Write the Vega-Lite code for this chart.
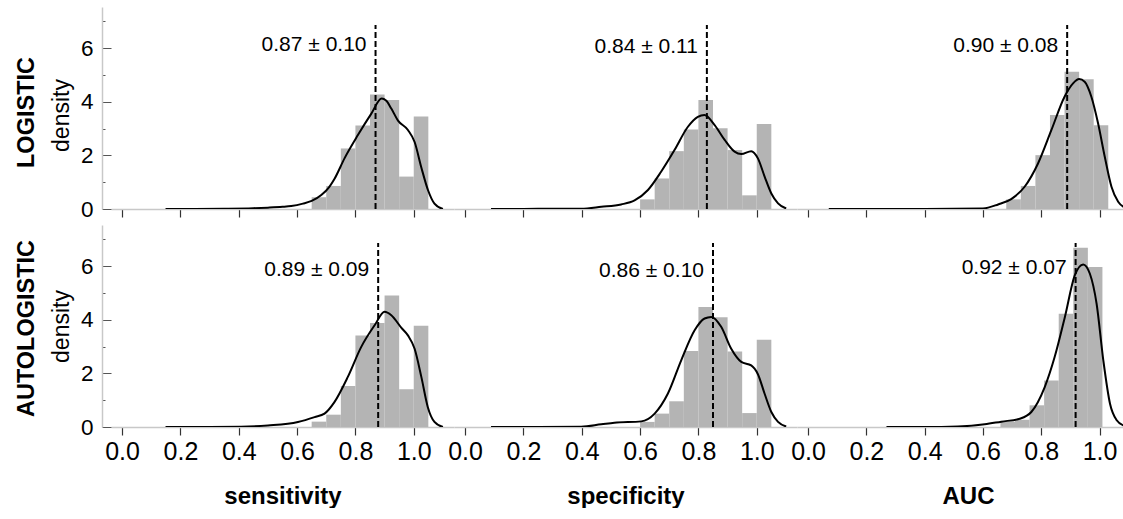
{
  "$schema": "https://vega.github.io/schema/vega-lite/v6.json",
  "padding": {"left": 13, "top": 7, "right": 0, "bottom": 0},
  "config": {
    "font": "Liberation Sans",
    "view": {"stroke": null},
    "axis": {"grid": false, "labelColor": "#000", "titleColor": "#000"}
  },
  "datasets": {
    "bars": [
      {"m":"L","v":"sens","a":0.65,"b":0.70,"h":0.44},{"m":"L","v":"sens","a":0.70,"b":0.75,"h":0.86},{"m":"L","v":"sens","a":0.75,"b":0.80,"h":2.26},{"m":"L","v":"sens","a":0.80,"b":0.85,"h":3.12},{"m":"L","v":"sens","a":0.85,"b":0.90,"h":4.27},{"m":"L","v":"sens","a":0.90,"b":0.95,"h":4.07},{"m":"L","v":"sens","a":0.95,"b":1.00,"h":1.21},{"m":"L","v":"sens","a":1.00,"b":1.05,"h":3.45},
      {"m":"L","v":"spec","a":0.60,"b":0.65,"h":0.36},{"m":"L","v":"spec","a":0.65,"b":0.70,"h":1.14},{"m":"L","v":"spec","a":0.70,"b":0.75,"h":2.16},{"m":"L","v":"spec","a":0.75,"b":0.80,"h":2.97},{"m":"L","v":"spec","a":0.80,"b":0.85,"h":4.07},{"m":"L","v":"spec","a":0.85,"b":0.90,"h":3.01},{"m":"L","v":"spec","a":0.90,"b":0.95,"h":2.20},{"m":"L","v":"spec","a":0.95,"b":1.00,"h":0.51},{"m":"L","v":"spec","a":1.00,"b":1.05,"h":3.17},
      {"m":"L","v":"auc","a":0.68,"b":0.73,"h":0.36},{"m":"L","v":"auc","a":0.73,"b":0.78,"h":0.86},{"m":"L","v":"auc","a":0.78,"b":0.83,"h":2.01},{"m":"L","v":"auc","a":0.83,"b":0.88,"h":3.51},{"m":"L","v":"auc","a":0.88,"b":0.93,"h":5.12},{"m":"L","v":"auc","a":0.93,"b":0.98,"h":4.84},{"m":"L","v":"auc","a":0.98,"b":1.03,"h":3.13},
      {"m":"A","v":"sens","a":0.65,"b":0.70,"h":0.20},{"m":"A","v":"sens","a":0.70,"b":0.75,"h":0.46},{"m":"A","v":"sens","a":0.75,"b":0.80,"h":1.53},{"m":"A","v":"sens","a":0.80,"b":0.85,"h":3.42},{"m":"A","v":"sens","a":0.85,"b":0.90,"h":3.88},{"m":"A","v":"sens","a":0.90,"b":0.95,"h":4.91},{"m":"A","v":"sens","a":0.95,"b":1.00,"h":1.41},{"m":"A","v":"sens","a":1.00,"b":1.05,"h":3.78},
      {"m":"A","v":"spec","a":0.60,"b":0.65,"h":0.19},{"m":"A","v":"spec","a":0.65,"b":0.70,"h":0.50},{"m":"A","v":"spec","a":0.70,"b":0.75,"h":0.96},{"m":"A","v":"spec","a":0.75,"b":0.80,"h":2.84},{"m":"A","v":"spec","a":0.80,"b":0.85,"h":4.48},{"m":"A","v":"spec","a":0.85,"b":0.90,"h":4.10},{"m":"A","v":"spec","a":0.90,"b":0.95,"h":2.82},{"m":"A","v":"spec","a":0.95,"b":1.00,"h":0.52},{"m":"A","v":"spec","a":1.00,"b":1.05,"h":3.26},
      {"m":"A","v":"auc","a":0.66,"b":0.71,"h":0.20},{"m":"A","v":"auc","a":0.71,"b":0.76,"h":0.27},{"m":"A","v":"auc","a":0.76,"b":0.81,"h":0.81},{"m":"A","v":"auc","a":0.81,"b":0.86,"h":1.74},{"m":"A","v":"auc","a":0.86,"b":0.91,"h":4.23},{"m":"A","v":"auc","a":0.91,"b":0.96,"h":6.69},{"m":"A","v":"auc","a":0.96,"b":1.01,"h":5.97}
    ],
    "curves": [
      {"m":"L","v":"sens","x":0.149,"d":0},{"m":"L","v":"sens","x":0.25,"d":0.0},{"m":"L","v":"sens","x":0.35,"d":0.01},{"m":"L","v":"sens","x":0.45,"d":0.03},{"m":"L","v":"sens","x":0.50,"d":0.05},{"m":"L","v":"sens","x":0.55,"d":0.08},{"m":"L","v":"sens","x":0.58,"d":0.11},{"m":"L","v":"sens","x":0.62,"d":0.2},{"m":"L","v":"sens","x":0.65,"d":0.3},{"m":"L","v":"sens","x":0.683,"d":0.52},{"m":"L","v":"sens","x":0.71,"d":0.82},{"m":"L","v":"sens","x":0.728,"d":1.12},{"m":"L","v":"sens","x":0.763,"d":1.9},{"m":"L","v":"sens","x":0.808,"d":2.75},{"m":"L","v":"sens","x":0.854,"d":3.55},{"m":"L","v":"sens","x":0.89,"d":4.12},{"m":"L","v":"sens","x":0.905,"d":4.05},{"m":"L","v":"sens","x":0.923,"d":3.75},{"m":"L","v":"sens","x":0.946,"d":3.3},{"m":"L","v":"sens","x":0.98,"d":2.95},{"m":"L","v":"sens","x":1.003,"d":2.5},{"m":"L","v":"sens","x":1.026,"d":1.55},{"m":"L","v":"sens","x":1.049,"d":0.7},{"m":"L","v":"sens","x":1.071,"d":0.2},{"m":"L","v":"sens","x":1.10,"d":0.0},
      {"m":"L","v":"spec","x":0.089,"d":0},{"m":"L","v":"spec","x":0.2,"d":0.0},{"m":"L","v":"spec","x":0.3,"d":0.01},{"m":"L","v":"spec","x":0.398,"d":0.01},{"m":"L","v":"spec","x":0.467,"d":0.08},{"m":"L","v":"spec","x":0.535,"d":0.17},{"m":"L","v":"spec","x":0.581,"d":0.32},{"m":"L","v":"spec","x":0.627,"d":0.71},{"m":"L","v":"spec","x":0.672,"d":1.39},{"m":"L","v":"spec","x":0.718,"d":2.2},{"m":"L","v":"spec","x":0.764,"d":3.07},{"m":"L","v":"spec","x":0.798,"d":3.44},{"m":"L","v":"spec","x":0.821,"d":3.51},{"m":"L","v":"spec","x":0.855,"d":3.14},{"m":"L","v":"spec","x":0.89,"d":2.58},{"m":"L","v":"spec","x":0.924,"d":2.14},{"m":"L","v":"spec","x":0.947,"d":2.05},{"m":"L","v":"spec","x":0.981,"d":2.16},{"m":"L","v":"spec","x":1.004,"d":1.89},{"m":"L","v":"spec","x":1.027,"d":1.21},{"m":"L","v":"spec","x":1.05,"d":0.58},{"m":"L","v":"spec","x":1.073,"d":0.21},{"m":"L","v":"spec","x":1.101,"d":0.02},
      {"m":"L","v":"auc","x":0.071,"d":0},{"m":"L","v":"auc","x":0.2,"d":0},{"m":"L","v":"auc","x":0.4,"d":0},{"m":"L","v":"auc","x":0.6,"d":0.02},{"m":"L","v":"auc","x":0.652,"d":0.17},{"m":"L","v":"auc","x":0.697,"d":0.37},{"m":"L","v":"auc","x":0.743,"d":0.83},{"m":"L","v":"auc","x":0.789,"d":1.70},{"m":"L","v":"auc","x":0.835,"d":2.95},{"m":"L","v":"auc","x":0.88,"d":4.19},{"m":"L","v":"auc","x":0.91,"d":4.7},{"m":"L","v":"auc","x":0.93,"d":4.85},{"m":"L","v":"auc","x":0.949,"d":4.75},{"m":"L","v":"auc","x":0.972,"d":4.19},{"m":"L","v":"auc","x":0.995,"d":3.2},{"m":"L","v":"auc","x":1.018,"d":1.95},{"m":"L","v":"auc","x":1.041,"d":0.83},{"m":"L","v":"auc","x":1.064,"d":0.27},{"m":"L","v":"auc","x":1.086,"d":0.06},{"m":"L","v":"auc","x":1.11,"d":0},
      {"m":"A","v":"sens","x":0.149,"d":0},{"m":"A","v":"sens","x":0.3,"d":0},{"m":"A","v":"sens","x":0.408,"d":0.01},{"m":"A","v":"sens","x":0.5,"d":0.06},{"m":"A","v":"sens","x":0.603,"d":0.19},{"m":"A","v":"sens","x":0.66,"d":0.37},{"m":"A","v":"sens","x":0.694,"d":0.5},{"m":"A","v":"sens","x":0.728,"d":0.93},{"m":"A","v":"sens","x":0.774,"d":1.87},{"m":"A","v":"sens","x":0.82,"d":2.99},{"m":"A","v":"sens","x":0.866,"d":3.8},{"m":"A","v":"sens","x":0.9,"d":4.3},{"m":"A","v":"sens","x":0.923,"d":4.17},{"m":"A","v":"sens","x":0.957,"d":3.71},{"m":"A","v":"sens","x":0.98,"d":3.42},{"m":"A","v":"sens","x":1.003,"d":2.92},{"m":"A","v":"sens","x":1.026,"d":1.87},{"m":"A","v":"sens","x":1.048,"d":0.75},{"m":"A","v":"sens","x":1.071,"d":0.19},{"m":"A","v":"sens","x":1.1,"d":0},
      {"m":"A","v":"spec","x":0.089,"d":0},{"m":"A","v":"spec","x":0.25,"d":0},{"m":"A","v":"spec","x":0.398,"d":0.01},{"m":"A","v":"spec","x":0.467,"d":0.1},{"m":"A","v":"spec","x":0.512,"d":0.16},{"m":"A","v":"spec","x":0.604,"d":0.21},{"m":"A","v":"spec","x":0.65,"d":0.5},{"m":"A","v":"spec","x":0.695,"d":1.24},{"m":"A","v":"spec","x":0.741,"d":2.49},{"m":"A","v":"spec","x":0.787,"d":3.61},{"m":"A","v":"spec","x":0.821,"d":4.05},{"m":"A","v":"spec","x":0.844,"d":4.11},{"m":"A","v":"spec","x":0.878,"d":3.74},{"m":"A","v":"spec","x":0.912,"d":2.93},{"m":"A","v":"spec","x":0.947,"d":2.43},{"m":"A","v":"spec","x":0.981,"d":2.3},{"m":"A","v":"spec","x":1.004,"d":1.97},{"m":"A","v":"spec","x":1.027,"d":1.24},{"m":"A","v":"spec","x":1.05,"d":0.56},{"m":"A","v":"spec","x":1.073,"d":0.19},{"m":"A","v":"spec","x":1.101,"d":0.02},
      {"m":"A","v":"auc","x":0.269,"d":0},{"m":"A","v":"auc","x":0.4,"d":0},{"m":"A","v":"auc","x":0.514,"d":0.02},{"m":"A","v":"auc","x":0.606,"d":0.1},{"m":"A","v":"auc","x":0.663,"d":0.2},{"m":"A","v":"auc","x":0.726,"d":0.31},{"m":"A","v":"auc","x":0.766,"d":0.56},{"m":"A","v":"auc","x":0.812,"d":1.49},{"m":"A","v":"auc","x":0.846,"d":2.61},{"m":"A","v":"auc","x":0.881,"d":4.1},{"m":"A","v":"auc","x":0.915,"d":5.66},{"m":"A","v":"auc","x":0.944,"d":6.07},{"m":"A","v":"auc","x":0.967,"d":5.72},{"m":"A","v":"auc","x":0.99,"d":4.6},{"m":"A","v":"auc","x":1.013,"d":2.49},{"m":"A","v":"auc","x":1.036,"d":0.87},{"m":"A","v":"auc","x":1.059,"d":0.25},{"m":"A","v":"auc","x":1.082,"d":0.06},{"m":"A","v":"auc","x":1.11,"d":0}
    ],
    "means": [
      {"m":"L","v":"sens","mu":0.869,"ty":6.12,"label":"0.87 ± 0.10"},
      {"m":"L","v":"spec","mu":0.829,"ty":6.06,"label":"0.84 ± 0.11"},
      {"m":"L","v":"auc","mu":0.889,"ty":6.09,"label":"0.90 ± 0.08"},
      {"m":"A","v":"sens","mu":0.878,"ty":5.85,"label":"0.89 ± 0.09"},
      {"m":"A","v":"spec","mu":0.85,"ty":5.82,"label":"0.86 ± 0.10"},
      {"m":"A","v":"auc","mu":0.918,"ty":5.93,"label":"0.92 ± 0.07"}
    ]
  },
  "vconcat": [
    {
      "hconcat": [
        {
          "width": 343, "height": 202,
          "layer": [
            {"data": {"name": "bars"}, "transform": [{"filter": "datum.m=='L' && datum.v=='sens'"}],
             "mark": {"type": "bar", "color": "#b4b4b4"},
             "encoding": {
               "x": {"field": "a", "type": "quantitative", "scale": {"domain": [-0.038, 1.138], "nice": false, "zero": false},
                     "axis": {"values": [0,0.1,0.2,0.3,0.4,0.5,0.6,0.7,0.8,0.9,1.0], "labels": false, "title": null, "tickSize": {"condition": {"test": "round(datum.value*10)%2==0", "value": 8}, "value": 3}, "tickColor": "#333", "tickWidth": 1.2, "domainColor": "#c8c8c8", "domainWidth": 1.5}},
               "x2": {"field": "b"},
               "y": {"field": "h", "type": "quantitative", "scale": {"domain": [0, 7.54], "nice": false},
                     "axis": {"orient": "left", "offset": 0, "domain": false, "values": [0,2,4,6], "tickSize": 9, "labelPadding": 9, "labelFontSize": 22.5, "tickColor": "#555", "title": "density", "titleFontSize": 23, "titleFontWeight": "normal", "titleX": -50, "titleY": 108, "titleBaseline": "middle", "titleAlign": "center", "titleAngle": -90}},
               "y2": {"datum": 0}
             }},
            {"data": {"name": "curves"}, "transform": [{"filter": "datum.m=='L' && datum.v=='sens'"}],
             "mark": {"type": "line", "color": "#000", "strokeWidth": 2, "interpolate": "monotone", "clip": true},
             "encoding": {
               "x": {"field": "x", "type": "quantitative"},
               "y": {"field": "d", "type": "quantitative", "axis": {"orient": "left", "offset": 9, "domain": true, "domainColor": "#c8c8c8", "domainWidth": 1.5, "values": [1,3,5,7], "ticks": true, "tickSize": -3, "tickColor": "#555", "labels": false, "title": "LOGISTIC", "titleFontSize": 23.5, "titleFontWeight": "bold", "titleX": -76, "titleY": 105, "titleBaseline": "middle", "titleAlign": "center", "titleAngle": -90}}
             }},
            {"data": {"name": "means"}, "transform": [{"filter": "datum.m=='L' && datum.v=='sens'"}],
             "mark": {"type": "rule", "color": "#000", "strokeWidth": 2, "strokeDash": [6, 3]},
             "encoding": {"x": {"field": "mu", "type": "quantitative"}, "y": {"datum": 0, "type": "quantitative", "axis": null}, "y2": {"datum": 6.87}}},
            {"data": {"name": "means"}, "transform": [{"filter": "datum.m=='L' && datum.v=='sens'"}],
             "mark": {"type": "text", "align": "right", "baseline": "middle", "dx": -9, "fontSize": 21},
             "encoding": {"x": {"field": "mu", "type": "quantitative"}, "y": {"field": "ty", "type": "quantitative", "axis": null}, "text": {"field": "label"}}}
          ],
          "resolve": {"axis": {"y": "independent"}}
        },
        {
          "width": 343, "height": 202,
          "layer": [
            {"data": {"name": "bars"}, "transform": [{"filter": "datum.m=='L' && datum.v=='spec'"}],
             "mark": {"type": "bar", "color": "#b4b4b4"},
             "encoding": {
               "x": {"field": "a", "type": "quantitative", "scale": {"domain": [-0.038, 1.138], "nice": false, "zero": false},
                     "axis": {"values": [0,0.1,0.2,0.3,0.4,0.5,0.6,0.7,0.8,0.9,1.0], "labels": false, "title": null, "tickSize": {"condition": {"test": "round(datum.value*10)%2==0", "value": 8}, "value": 3}, "tickColor": "#333", "tickWidth": 1.2, "domainColor": "#c8c8c8", "domainWidth": 1.5}},
               "x2": {"field": "b"},
               "y": {"field": "h", "type": "quantitative", "scale": {"domain": [0, 7.54], "nice": false}, "axis": null},
               "y2": {"datum": 0}
             }},
            {"data": {"name": "curves"}, "transform": [{"filter": "datum.m=='L' && datum.v=='spec'"}],
             "mark": {"type": "line", "color": "#000", "strokeWidth": 2, "interpolate": "monotone", "clip": true},
             "encoding": {"x": {"field": "x", "type": "quantitative"}, "y": {"field": "d", "type": "quantitative", "axis": null}}},
            {"data": {"name": "means"}, "transform": [{"filter": "datum.m=='L' && datum.v=='spec'"}],
             "mark": {"type": "rule", "color": "#000", "strokeWidth": 2, "strokeDash": [6, 3]},
             "encoding": {"x": {"field": "mu", "type": "quantitative"}, "y": {"datum": 0, "type": "quantitative", "axis": null}, "y2": {"datum": 6.87}}},
            {"data": {"name": "means"}, "transform": [{"filter": "datum.m=='L' && datum.v=='spec'"}],
             "mark": {"type": "text", "align": "right", "baseline": "middle", "dx": -9, "fontSize": 21},
             "encoding": {"x": {"field": "mu", "type": "quantitative"}, "y": {"field": "ty", "type": "quantitative", "axis": null}, "text": {"field": "label"}}}
          ]
        },
        {
          "width": 327, "height": 202,
          "layer": [
            {"data": {"name": "bars"}, "transform": [{"filter": "datum.m=='L' && datum.v=='auc'"}],
             "mark": {"type": "bar", "color": "#b4b4b4"},
             "encoding": {
               "x": {"field": "a", "type": "quantitative", "scale": {"domain": [-0.038, 1.084], "nice": false, "zero": false},
                     "axis": {"values": [0,0.1,0.2,0.3,0.4,0.5,0.6,0.7,0.8,0.9,1.0], "labels": false, "title": null, "tickSize": {"condition": {"test": "round(datum.value*10)%2==0", "value": 8}, "value": 3}, "tickColor": "#333", "tickWidth": 1.2, "domainColor": "#c8c8c8", "domainWidth": 1.5}},
               "x2": {"field": "b"},
               "y": {"field": "h", "type": "quantitative", "scale": {"domain": [0, 7.54], "nice": false}, "axis": null},
               "y2": {"datum": 0}
             }},
            {"data": {"name": "curves"}, "transform": [{"filter": "datum.m=='L' && datum.v=='auc'"}],
             "mark": {"type": "line", "color": "#000", "strokeWidth": 2, "interpolate": "monotone", "clip": true},
             "encoding": {"x": {"field": "x", "type": "quantitative"}, "y": {"field": "d", "type": "quantitative", "axis": null}}},
            {"data": {"name": "means"}, "transform": [{"filter": "datum.m=='L' && datum.v=='auc'"}],
             "mark": {"type": "rule", "color": "#000", "strokeWidth": 2, "strokeDash": [6, 3]},
             "encoding": {"x": {"field": "mu", "type": "quantitative"}, "y": {"datum": 0, "type": "quantitative", "axis": null}, "y2": {"datum": 6.87}}},
            {"data": {"name": "means"}, "transform": [{"filter": "datum.m=='L' && datum.v=='auc'"}],
             "mark": {"type": "text", "align": "right", "baseline": "middle", "dx": -9, "fontSize": 21},
             "encoding": {"x": {"field": "mu", "type": "quantitative"}, "y": {"field": "ty", "type": "quantitative", "axis": null}, "text": {"field": "label"}}}
          ]
        }
      ],
      "spacing": 0, "bounds": "flush"
    },
    {
      "hconcat": [
        {
          "width": 343, "height": 202,
          "layer": [
            {"data": {"name": "bars"}, "transform": [{"filter": "datum.m=='A' && datum.v=='sens'"}],
             "mark": {"type": "bar", "color": "#b4b4b4"},
             "encoding": {
               "x": {"field": "a", "type": "quantitative", "scale": {"domain": [-0.038, 1.138], "nice": false, "zero": false},
                     "axis": {"values": [0,0.1,0.2,0.3,0.4,0.5,0.6,0.7,0.8,0.9,1.0], "format": ".1f", "labelExpr": "round(datum.value*10)%2==0 ? datum.label : ''", "labelFontSize": 25, "labelPadding": 4, "tickSize": {"condition": {"test": "round(datum.value*10)%2==0", "value": 8}, "value": 3}, "tickColor": "#333", "tickWidth": 1.2, "domainColor": "#c8c8c8", "domainWidth": 1.5, "title": "sensitivity", "titleFontSize": 24, "titleFontWeight": "bold", "titlePadding": 20}},
               "x2": {"field": "b"},
               "y": {"field": "h", "type": "quantitative", "scale": {"domain": [0, 7.54], "nice": false},
                     "axis": {"orient": "left", "offset": 0, "domain": false, "values": [0,2,4,6], "tickSize": 9, "labelPadding": 9, "labelFontSize": 22.5, "tickColor": "#555", "title": "density", "titleFontSize": 23, "titleFontWeight": "normal", "titleX": -50, "titleY": 101, "titleBaseline": "middle", "titleAlign": "center", "titleAngle": -90}},
               "y2": {"datum": 0}
             }},
            {"data": {"name": "curves"}, "transform": [{"filter": "datum.m=='A' && datum.v=='sens'"}],
             "mark": {"type": "line", "color": "#000", "strokeWidth": 2, "interpolate": "monotone", "clip": true},
             "encoding": {
               "x": {"field": "x", "type": "quantitative"},
               "y": {"field": "d", "type": "quantitative", "axis": {"orient": "left", "offset": 9, "domain": true, "domainColor": "#c8c8c8", "domainWidth": 1.5, "values": [1,3,5,7], "ticks": true, "tickSize": -3, "tickColor": "#555", "labels": false, "title": "AUTOLOGISTIC", "titleFontSize": 23.5, "titleFontWeight": "bold", "titleX": -76, "titleY": 103, "titleBaseline": "middle", "titleAlign": "center", "titleAngle": -90}}
             }},
            {"data": {"name": "means"}, "transform": [{"filter": "datum.m=='A' && datum.v=='sens'"}],
             "mark": {"type": "rule", "color": "#000", "strokeWidth": 2, "strokeDash": [6, 3]},
             "encoding": {"x": {"field": "mu", "type": "quantitative"}, "y": {"datum": 0, "type": "quantitative", "axis": null}, "y2": {"datum": 6.87}}},
            {"data": {"name": "means"}, "transform": [{"filter": "datum.m=='A' && datum.v=='sens'"}],
             "mark": {"type": "text", "align": "right", "baseline": "middle", "dx": -9, "fontSize": 21},
             "encoding": {"x": {"field": "mu", "type": "quantitative"}, "y": {"field": "ty", "type": "quantitative", "axis": null}, "text": {"field": "label"}}}
          ],
          "resolve": {"axis": {"y": "independent"}}
        },
        {
          "width": 343, "height": 202,
          "layer": [
            {"data": {"name": "bars"}, "transform": [{"filter": "datum.m=='A' && datum.v=='spec'"}],
             "mark": {"type": "bar", "color": "#b4b4b4"},
             "encoding": {
               "x": {"field": "a", "type": "quantitative", "scale": {"domain": [-0.038, 1.138], "nice": false, "zero": false},
                     "axis": {"values": [0,0.1,0.2,0.3,0.4,0.5,0.6,0.7,0.8,0.9,1.0], "format": ".1f", "labelExpr": "round(datum.value*10)%2==0 ? datum.label : ''", "labelFontSize": 25, "labelPadding": 4, "tickSize": {"condition": {"test": "round(datum.value*10)%2==0", "value": 8}, "value": 3}, "tickColor": "#333", "tickWidth": 1.2, "domainColor": "#c8c8c8", "domainWidth": 1.5, "title": "specificity", "titleFontSize": 24, "titleFontWeight": "bold", "titlePadding": 20}},
               "x2": {"field": "b"},
               "y": {"field": "h", "type": "quantitative", "scale": {"domain": [0, 7.54], "nice": false}, "axis": null},
               "y2": {"datum": 0}
             }},
            {"data": {"name": "curves"}, "transform": [{"filter": "datum.m=='A' && datum.v=='spec'"}],
             "mark": {"type": "line", "color": "#000", "strokeWidth": 2, "interpolate": "monotone", "clip": true},
             "encoding": {"x": {"field": "x", "type": "quantitative"}, "y": {"field": "d", "type": "quantitative", "axis": null}}},
            {"data": {"name": "means"}, "transform": [{"filter": "datum.m=='A' && datum.v=='spec'"}],
             "mark": {"type": "rule", "color": "#000", "strokeWidth": 2, "strokeDash": [6, 3]},
             "encoding": {"x": {"field": "mu", "type": "quantitative"}, "y": {"datum": 0, "type": "quantitative", "axis": null}, "y2": {"datum": 6.87}}},
            {"data": {"name": "means"}, "transform": [{"filter": "datum.m=='A' && datum.v=='spec'"}],
             "mark": {"type": "text", "align": "right", "baseline": "middle", "dx": -9, "fontSize": 21},
             "encoding": {"x": {"field": "mu", "type": "quantitative"}, "y": {"field": "ty", "type": "quantitative", "axis": null}, "text": {"field": "label"}}}
          ]
        },
        {
          "width": 327, "height": 202,
          "layer": [
            {"data": {"name": "bars"}, "transform": [{"filter": "datum.m=='A' && datum.v=='auc'"}],
             "mark": {"type": "bar", "color": "#b4b4b4"},
             "encoding": {
               "x": {"field": "a", "type": "quantitative", "scale": {"domain": [-0.038, 1.084], "nice": false, "zero": false},
                     "axis": {"values": [0,0.1,0.2,0.3,0.4,0.5,0.6,0.7,0.8,0.9,1.0], "format": ".1f", "labelExpr": "round(datum.value*10)%2==0 ? datum.label : ''", "labelFontSize": 25, "labelPadding": 4, "tickSize": {"condition": {"test": "round(datum.value*10)%2==0", "value": 8}, "value": 3}, "tickColor": "#333", "tickWidth": 1.2, "domainColor": "#c8c8c8", "domainWidth": 1.5, "title": "AUC", "titleFontSize": 24, "titleFontWeight": "bold", "titlePadding": 20, "titleX": 171}},
               "x2": {"field": "b"},
               "y": {"field": "h", "type": "quantitative", "scale": {"domain": [0, 7.54], "nice": false}, "axis": null},
               "y2": {"datum": 0}
             }},
            {"data": {"name": "curves"}, "transform": [{"filter": "datum.m=='A' && datum.v=='auc'"}],
             "mark": {"type": "line", "color": "#000", "strokeWidth": 2, "interpolate": "monotone", "clip": true},
             "encoding": {"x": {"field": "x", "type": "quantitative"}, "y": {"field": "d", "type": "quantitative", "axis": null}}},
            {"data": {"name": "means"}, "transform": [{"filter": "datum.m=='A' && datum.v=='auc'"}],
             "mark": {"type": "rule", "color": "#000", "strokeWidth": 2, "strokeDash": [6, 3]},
             "encoding": {"x": {"field": "mu", "type": "quantitative"}, "y": {"datum": 0, "type": "quantitative", "axis": null}, "y2": {"datum": 6.87}}},
            {"data": {"name": "means"}, "transform": [{"filter": "datum.m=='A' && datum.v=='auc'"}],
             "mark": {"type": "text", "align": "right", "baseline": "middle", "dx": -9, "fontSize": 21},
             "encoding": {"x": {"field": "mu", "type": "quantitative"}, "y": {"field": "ty", "type": "quantitative", "axis": null}, "text": {"field": "label"}}}
          ]
        }
      ],
      "spacing": 0, "bounds": "flush"
    }
  ],
  "spacing": 4
}
